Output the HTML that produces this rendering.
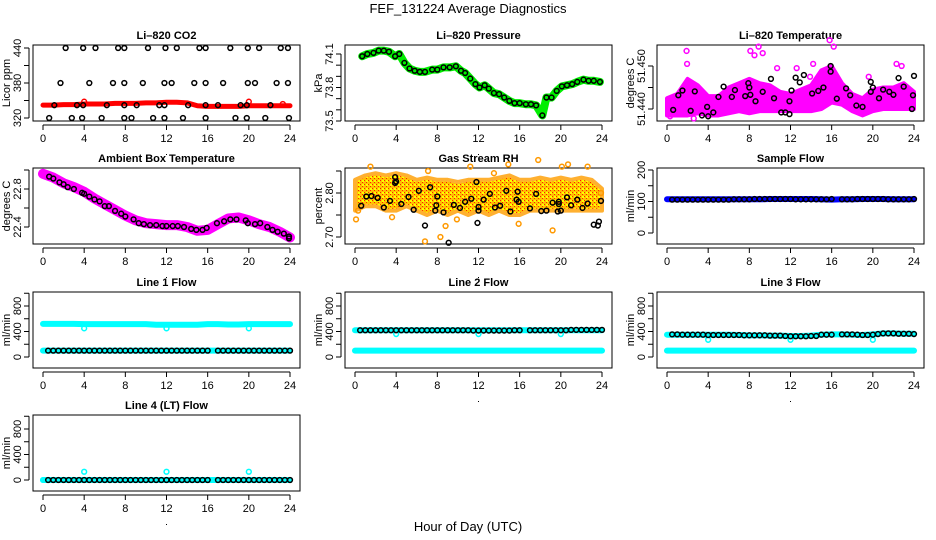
<!DOCTYPE html>
<html><head><meta charset="utf-8">
<style>
html,body{margin:0;padding:0;background:#fff;}
svg{display:block;font-family:"Liberation Sans",Arial,sans-serif;}
</style></head>
<body>
<svg id="chart" width="936" height="540" viewBox="0 0 936 540" xmlns="http://www.w3.org/2000/svg">
<defs>
<pattern id="rhpat" width="4" height="4" patternUnits="userSpaceOnUse">
<rect width="4" height="4" fill="#ffc000"/><rect width="1" height="1" fill="#ff2000"/><rect x="2" y="2" width="1" height="1" fill="#ff2000"/><rect x="2" y="0" width="2" height="2" fill="#ffff00"/>
</pattern>
</defs>
<text x="468" y="13" text-anchor="middle" font-size="13">FEF_131224  Average Diagnostics</text>
<text x="468" y="531" text-anchor="middle" font-size="13">Hour of Day (UTC)</text>
</svg>
<script>
// ---------- data ----------
var hours = [0,1,2,3,4,5,6,7,8,9,10,11,12,13,14,15,16,17,18,19,20,21,22,23,24];
var xTicks = [0,4,8,12,16,20,24];
var flowTimes = [0.5,1,1.5,2,2.5,3,3.5,4,4.5,5,5.5,6,6.5,7,7.5,8,8.5,9,9.5,10,10.5,11,11.5,12,12.5,13,13.5,14,14.5,15,15.5,16,17,17.5,18,18.5,19,19.5,20,20.5,21,21.5,22,22.5,23,23.5,24];

var co2Band = [342,342,343,343,344,344,344,345,345,345,346,346,347,347,346,341,340,340,340,340,341,341,341,341,341];
var co2RedOutT = [4,20,23.3];
var co2RedOutV = [348,348,344];
var co2BlackT = [2.2,3.9,5.1,7.3,7.9,10.2,11.9,13,15.2,15.8,18.2,19.9,21,23.1,23.8, 1.7,4.5,6.8,7.9,9.7,11.8,12.5,14.7,15.8,17.5,19.9,20.6,22.7,23.8, 1.1,3.3,3.9,6.2,7.9,9.1,11.3,11.8,14.1,15.8,17,19.2,19.8,22.1, 0.6,2.8,3.8,5.7,7.9,8.6,10.7,11.8,13.6,15.8,18.7,19.8,21.6,23.9];
var co2BlackV = [440,440,440,440,440,440,440,440,440,440,440,440,440,440,440, 380,380,380,380,380,380,380,380,380,380,380,380,380,380, 342,342,342,342,342,342,342,342,342,342,342,342,342,342, 320,320,320,320,320,320,320,320,320,320,320,320,320,320];

var presBlackT = [0.7,1.2,1.8,2.3,2.8,3.3,3.9,4.3,4.8,5.3,5.8,6.3,6.8,7.5,8,8.6,9.2,9.8,10.3,10.7,11.2,11.7,12.1,12.6,13,13.5,14,14.5,15,15.5,16,16.6,17.1,17.6,18.2,18.6,19.1,19.6,20.1,20.6,21.1,21.6,22.2,22.7,23.2,23.8];
var presBlackV = [74.08,74.1,74.11,74.13,74.13,74.12,74.08,74.1,74.02,73.97,73.95,73.94,73.94,73.96,73.96,73.98,73.98,73.99,73.95,73.93,73.88,73.83,73.8,73.82,73.79,73.75,73.74,73.71,73.68,73.66,73.66,73.65,73.65,73.64,73.55,73.71,73.71,73.77,73.81,73.82,73.83,73.85,73.87,73.86,73.86,73.85];

var tempLo = [51.4385,51.4385,51.4385,51.439,51.4385,51.4385,51.439,51.4395,51.439,51.4395,51.4395,51.4395,51.4395,51.4395,51.4395,51.440,51.4415,51.441,51.4395,51.4385,51.4395,51.440,51.440,51.440,51.440];
var tempHi = [51.4425,51.4435,51.447,51.4455,51.443,51.443,51.445,51.446,51.447,51.446,51.4455,51.444,51.4435,51.4445,51.4455,51.449,51.450,51.446,51.4435,51.4425,51.4445,51.445,51.445,51.446,51.444];
var tempOutT = [1.9,1.95,8.1,8.5,8.9,9.3,10.7,12.6,15.8,16.2,14.2,19.6,22.3,22.8,0.3,2.6,6.8,13.9];
var tempOutV = [51.4535,51.4505,51.4535,51.4525,51.4545,51.4530,51.4495,51.4495,51.456,51.4545,51.4505,51.4475,51.4505,51.450,51.4383,51.4378,51.4448,51.4475];
var tempBlackT = [0.6,1.1,1.5,2.3,2.7,3.4,3.9,4.0,4.5,5.0,5.5,6.3,6.6,7.6,7.9,8.0,8.1,8.6,9.3,10.1,10.4,11.1,11.5,11.9,11.9,12.1,12.5,12.9,13.3,14.1,14.7,15.2,15.9,15.9,16.5,17.4,17.8,18.4,19.0,19.8,19.8,20.0,20.6,21.0,21.6,22.0,22.5,23.0,23.8,23.9,24.0];
var tempBlackV = [51.4398,51.4432,51.4443,51.4396,51.4441,51.4385,51.4405,51.4383,51.4392,51.4428,51.4452,51.4428,51.4444,51.4430,51.4460,51.4450,51.4433,51.4418,51.4440,51.4470,51.4425,51.4392,51.4392,51.4388,51.4418,51.4443,51.4473,51.4462,51.4479,51.4436,51.4442,51.4450,51.4500,51.4487,51.4424,51.4448,51.4432,51.4408,51.4405,51.4440,51.4463,51.4450,51.4425,51.4445,51.4440,51.4433,51.4472,51.4452,51.4400,51.4432,51.4477];

var ambBand = [22.96,22.92,22.86,22.82,22.77,22.70,22.64,22.58,22.52,22.47,22.44,22.43,22.42,22.42,22.40,22.36,22.37,22.43,22.49,22.50,22.47,22.43,22.40,22.35,22.29];
var ambBlackT = [0.6,1.0,1.6,2.0,2.4,3.0,3.8,4.0,4.5,5.0,5.5,6.0,6.4,7.0,7.6,8.0,8.8,9.3,9.8,10.4,11.0,11.6,12.0,12.6,13.1,13.7,14.4,14.9,15.5,15.9,16.9,17.6,18.2,18.8,19.7,19.9,20.6,21.1,21.8,22.3,22.8,23.4,23.9,23.9];
var ambBlackV = [22.93,22.91,22.87,22.85,22.82,22.80,22.76,22.75,22.72,22.69,22.67,22.62,22.62,22.57,22.54,22.51,22.48,22.44,22.43,22.42,22.42,22.41,22.41,22.41,22.41,22.40,22.38,22.37,22.37,22.39,22.44,22.46,22.48,22.48,22.47,22.44,22.43,22.44,22.40,22.37,22.35,22.33,22.30,22.28];

var rhLo = [2.76,2.77,2.77,2.76,2.76,2.77,2.76,2.75,2.76,2.75,2.76,2.75,2.76,2.75,2.76,2.75,2.75,2.76,2.76,2.76,2.76,2.76,2.76,2.76,2.76];
var rhHi = [2.83,2.84,2.845,2.84,2.845,2.84,2.83,2.835,2.83,2.83,2.825,2.83,2.83,2.83,2.835,2.84,2.83,2.83,2.835,2.83,2.835,2.83,2.835,2.83,2.81];
var rhOutT = [0.1,0.3,1.5,6.8,8.3,8.8,7.1,11.2,13.5,14.9,15.9,17.8,19.2,20.1,20.7,22.6,23.9,3.6,9.9];
var rhOutV = [2.74,2.76,2.86,2.69,2.70,2.725,2.85,2.86,2.845,2.865,2.73,2.875,2.715,2.86,2.865,2.86,2.80,2.745,2.74];
var rhBlackT = [0.6,1.1,1.6,2.2,2.8,3.4,3.9,3.9,4.0,4.5,5.2,5.7,6.2,6.8,7.3,7.8,7.9,8.0,8.6,9.1,9.6,10.2,10.7,11.3,11.9,11.8,12.0,12.0,12.5,13.1,13.6,14.1,14.7,15.1,15.7,15.8,15.9,17.0,17.6,18.1,18.6,19.2,19.7,19.8,19.8,20.0,20.6,21.0,21.6,22.1,22.6,23.2,23.6,23.7,23.9];
var rhBlackV = [2.771,2.792,2.793,2.789,2.767,2.782,2.836,2.823,2.826,2.775,2.791,2.762,2.805,2.726,2.813,2.760,2.772,2.792,2.756,2.687,2.773,2.766,2.780,2.787,2.732,2.825,2.768,2.760,2.785,2.798,2.767,2.771,2.805,2.758,2.785,2.803,2.780,2.765,2.798,2.759,2.760,2.778,2.758,2.780,2.775,2.760,2.790,2.772,2.785,2.766,2.776,2.728,2.726,2.735,2.782];

var sampleBand = [107,107,107,107,107,107,107,107,107,107,108,108,108,108,108,107,106,107,107,108,108,108,107,107,107];
var sampleBlack = [106,106,106,106,106,106,106,106,106,106,106,106,107,107,107,107,108,108,108,108,108,108,108,108,107,107,107,107,107,107,107,108,107,107,107,108,108,108,108,108,108,107,107,107,107,107,108];

var line1CyanHi = [520,520,520,520,515,515,515,515,515,515,515,505,505,505,505,505,515,515,510,510,515,515,515,515,515];
var line1CyanLo = [100,100,100,100,100,100,100,100,100,100,100,100,100,100,100,100,100,100,100,100,100,100,100,100,100];
var line1Black = [100,100,100,100,100,100,100,100,100,100,100,100,100,100,100,100,100,100,100,100,100,100,100,100,100,100,100,100,100,100,100,100,100,100,100,100,100,100,100,100,100,100,100,100,100,100,100];
var line1OutT = [4,12,20];
var line1OutV = [450,450,450];

var line2CyanHi = [420,420,420,420,420,420,420,420,420,420,420,420,420,420,420,420,420,420,420,420,420,420,420,420,420];
var line2CyanLo = [100,100,100,100,100,100,100,100,100,100,100,100,100,100,100,100,100,100,100,100,100,100,100,100,100];
var line2Black = [420,420,420,420,420,420,420,420,420,420,420,420,420,420,420,420,420,420,420,420,420,420,415,415,415,415,415,415,415,415,420,420,420,420,420,420,420,420,420,420,425,425,425,425,425,425,425];
var line2OutT = [4,12,20];
var line2OutV = [360,360,360];

var line3CyanHi = [350,350,350,350,350,350,350,345,340,340,335,335,330,330,335,350,355,355,350,345,355,370,370,365,365];
var line3CyanLo = [100,100,100,100,100,100,100,100,100,100,100,100,100,100,100,100,100,100,100,100,100,100,100,100,100];
var line3Black = [355,355,350,350,350,350,350,345,345,345,345,345,345,345,340,340,340,340,340,335,335,335,330,325,325,325,325,330,330,350,350,350,355,355,355,350,345,345,350,360,370,370,370,365,365,365,360];
var line3OutT = [4,12,20];
var line3OutV = [270,270,270];

var line4CyanHi = [0,0,0,0,0,0,0,0,0,0,0,0,0,0,0,0,0,0,0,0,0,0,0,0,0];
var line4CyanLo = [0,0,0,0,0,0,0,0,0,0,0,0,0,0,0,0,0,0,0,0,0,0,0,0,0];
var line4Black = [0,0,0,0,0,0,0,0,0,0,0,0,0,0,0,0,0,0,0,0,0,0,0,0,0,0,0,0,0,0,0,0,0,0,0,0,0,0,0,0,0,0,0,0,0,0,0];
var line4OutT = [4,12,20];
var line4OutV = [130,130,130];

// ---------- drawing ----------
var NS = "http://www.w3.org/2000/svg";
var svg = document.getElementById("chart");
var rowTops = [45,168,292,415];
function mk(tag, parent, attrs){
  var e = document.createElementNS(NS, tag);
  for (var k in attrs) e.setAttribute(k, attrs[k]);
  parent.appendChild(e);
  return e;
}
function makePanel(name, title, ytitle, col, row, v1, o1, v2, o2, yTicks, yLabels){
  var L = 33 + 312*col, T = rowTops[row], W = 267, H = 76, B = T + H;
  var g = mk("g", svg, {});
  
  
  var p = {g:g, L:L, T:T, B:B,
    x:function(t){return L + 10 + t*247/24;},
    y:function(v){return T + o1 + (v - v1)*(o2 - o1)/(v2 - v1);}};
  var t = mk("text", g, {x:L+W/2, y:T-6, "text-anchor":"middle", "font-size":"11", "font-weight":"bold"});
  t.textContent = title;
  
  
  var box = mk("rect", g, {x:L, y:T, width:W, height:H, fill:"none", stroke:"#000", "stroke-width":"1"});
  
  
  var xa = mk("g", g, {});
  
  
  mk("line", xa, {x1:p.x(xTicks[0]), x2:p.x(xTicks[xTicks.length-1]), y1:B+4, y2:B+4, stroke:"#000"});
  xTicks.forEach(function(v){
    mk("line", xa, {x1:p.x(v), x2:p.x(v), y1:B+4, y2:B+9, stroke:"#000"});
    var tl = mk("text", xa, {x:p.x(v), y:B+21, "text-anchor":"middle", "font-size":"11"});
    tl.textContent = v;
    
    
  });
  mk("rect", xa, {x:L+W/2-0.5, y:B+33, width:1, height:1, fill:"#000"});
  var ya = mk("g", g, {});
  
  
  mk("line", ya, {x1:L-4, x2:L-4, y1:p.y(yTicks[0]), y2:p.y(yTicks[yTicks.length-1]), stroke:"#000"});
  yTicks.forEach(function(v){
    mk("line", ya, {x1:L-9, x2:L-4, y1:p.y(v), y2:p.y(v), stroke:"#000"});
  });
  yLabels.forEach(function(lab){
    var yy = p.y(parseFloat(lab));
    var tl = mk("text", ya, {x:yy, y:0, "text-anchor":"middle", "font-size":"11", transform:"translate("+(L-12)+" 0) rotate(-90) translate(0 0)"});
    tl.setAttribute("x", -yy);
    tl.setAttribute("y", 0);
    tl.textContent = lab;
    
    
  });
  var yt = mk("text", ya, {x:-(T+H/2), y:0, "text-anchor":"middle", "font-size":"11", transform:"translate("+(L-23)+" 0) rotate(-90)"});
  yt.textContent = ytitle;
  
  
  return p;
}
function band(p, name, times, vals, color, width){
  var pts = times.map(function(t,i){return p.x(t)+","+p.y(vals[i]);}).join(" ");
  var e = mk("polyline", p.g, {points:pts, fill:"none", stroke:color, "stroke-width":width, "stroke-linejoin":"round", "stroke-linecap":"round"});
  
  
}
function area(p, name, times, lo, hi, fill, strokeCol){
  var a = times.map(function(t,i){return p.x(t)+","+p.y(hi[i]);});
  var b = times.map(function(t,i){return p.x(t)+","+p.y(lo[i]);}).reverse();
  var e = mk("polygon", p.g, {points:a.concat(b).join(" "), fill:fill, stroke:strokeCol, "stroke-width":"4", "stroke-linejoin":"round"});
  
  
}
function pts(p, name, times, vals, color){
  var g = mk("g", p.g, {});
  
  
  times.forEach(function(t,i){
    var c = mk("circle", g, {cx:p.x(t), cy:p.y(vals[i]), r:2.4, fill:"none", stroke:color, "stroke-width":"1.5"});
    
    
  });
}

var p = makePanel("co2", "Li\u2013820 CO2", "Licor ppm", 0, 0, 320, 73, 440, 3, [320,350,380,410,440], ["320","380","440"]);
band(p, "co2-red-series", hours, co2Band, "#ff0000", 5);
pts(p, "co2-red-outliers", co2RedOutT, co2RedOutV, "#ff0000");
pts(p, "co2-black-points", co2BlackT, co2BlackV, "#000");

p = makePanel("pressure", "Li\u2013820 Pressure", "kPa", 1, 0, 73.5, 76, 74.1, 9, [73.5,73.6,73.7,73.8,73.9,74.0,74.1], ["73.5","73.8","74.1"]);
band(p, "pressure-green-series", presBlackT, presBlackV, "#00ee00", 8);
pts(p, "pressure-black-points", presBlackT, presBlackV, "#000");

p = makePanel("temperature", "Li\u2013820 Temperature", "degrees C", 2, 0, 51.44, 64, 51.45, 21, [51.44,51.445,51.45], ["51.440","51.450"]);
area(p, "temperature-magenta-series", hours, tempLo, tempHi, "#ff00ff", "#ff00ff");
pts(p, "temperature-magenta-outliers", tempOutT, tempOutV, "#ff00ff");
pts(p, "temperature-black-points", tempBlackT, tempBlackV, "#000");

p = makePanel("ambient", "Ambient Box Temperature", "degrees C", 0, 1, 22.4, 59, 22.8, 21, [22.4,22.6,22.8,23.0], ["22.4","22.8"]);
band(p, "ambient-magenta-series", hours, ambBand, "#ff00ff", 10);
pts(p, "ambient-black-points", ambBlackT, ambBlackV, "#000");

p = makePanel("rh", "Gas Stream RH", "percent", 1, 1, 2.70, 69, 2.80, 25, [2.70,2.75,2.80,2.85], ["2.70","2.80"]);
area(p, "rh-orange-series", hours, rhLo, rhHi, "url(#rhpat)", "#ffb030");
pts(p, "rh-orange-outliers", rhOutT, rhOutV, "#ff9900");
pts(p, "rh-black-points", rhBlackT, rhBlackV, "#000");

p = makePanel("sample-flow", "Sample Flow", "ml/min", 2, 1, 0, 65, 200, 2, [0,50,100,150,200], ["0","100","200"]);
band(p, "sample-flow-blue-series", hours, sampleBand, "#0000ff", 6);
pts(p, "sample-flow-black-points", flowTimes, sampleBlack, "#000");

var flowTicks = [0,200,400,600,800,1000];
var flowLabels = ["0","400","800"];
function flowPanel(name, title, col, row, hi, lo, blk, oT, oV){
  var q = makePanel(name, title, "ml/min", col, row, 0, 65, 800, 14, flowTicks, flowLabels);
  band(q, name + "-cyan-upper-series", hours, hi, "#00ffff", 6);
  band(q, name + "-cyan-lower-series", hours, lo, "#00ffff", 6);
  pts(q, name + "-cyan-outliers", oT, oV, "#00ffff");
  pts(q, name + "-black-points", flowTimes, blk, "#000");
}
flowPanel("line1-flow", "Line 1 Flow", 0, 2, line1CyanHi, line1CyanLo, line1Black, line1OutT, line1OutV);
flowPanel("line2-flow", "Line 2 Flow", 1, 2, line2CyanHi, line2CyanLo, line2Black, line2OutT, line2OutV);
flowPanel("line3-flow", "Line 3 Flow", 2, 2, line3CyanHi, line3CyanLo, line3Black, line3OutT, line3OutV);
flowPanel("line4-flow", "Line 4 (LT) Flow", 0, 3, line4CyanHi, line4CyanLo, line4Black, line4OutT, line4OutV);
</script>
</body></html>
